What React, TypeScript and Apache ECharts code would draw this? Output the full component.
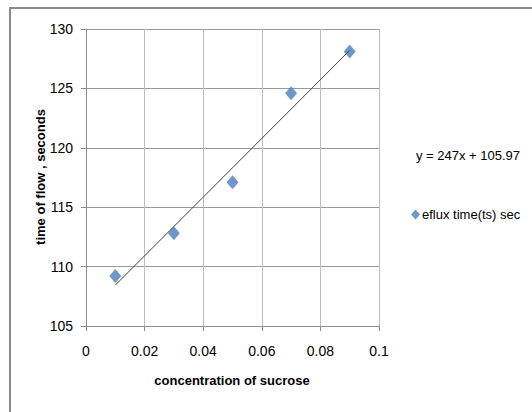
import React, { useEffect, useRef } from "react";
import * as echarts from "echarts";

const concentration = [0.01, 0.03, 0.05, 0.07, 0.09];
const effluxTime = [109.2, 112.8, 117.1, 124.6, 128.1];
const slope = 247;
const intercept = 105.97;
const trendX = [0.01, 0.09];
const seriesName = "eflux time(ts) sec";
const equationText = "y = 247x + 105.97";
const xTitle = "concentration of sucrose";
const yTitle = "time of flow , seconds";

const FONT = "'Liberation Sans', Arial, sans-serif";

export default function App() {
  const ref = useRef<HTMLDivElement>(null);
  useEffect(() => {
    document.body.style.margin = "0";
    const chart = echarts.init(ref.current!, null, { renderer: "svg" });
    const trend = trendX.map((x) => [x, slope * x + intercept]);
    chart.setOption({
      animation: false,
      backgroundColor: "#ffffff",
      textStyle: { fontFamily: FONT },
      grid: { left: 86, right: 153, top: 29, bottom: 86, containLabel: false },
      legend: {
        show: true,
        data: [{ name: seriesName, icon: "diamond" }],
        left: 406,
        top: 203,
        itemWidth: 9,
        itemHeight: 10,
        itemGap: 4,
        textStyle: { fontFamily: FONT, fontSize: 13, color: "#000", padding: [0, 0, 0, -3] },
      },
      xAxis: {
        type: "value",
        min: 0,
        max: 0.1,
        interval: 0.02,
        axisLine: { show: true, lineStyle: { color: "#8c8c8c", width: 1 } },
        axisTick: { show: true, length: 5, lineStyle: { color: "#8c8c8c" } },
        axisLabel: {
          margin: 18,
          fontSize: 14,
          color: "#000",
          fontFamily: FONT,
          formatter: (v: number) => String(+v.toFixed(2)),
        },
        splitLine: { show: true, lineStyle: { color: "#bdbdbd", width: 1 } },
      },
      yAxis: {
        type: "value",
        min: 105,
        max: 130,
        interval: 5,
        axisLine: { show: true, lineStyle: { color: "#8c8c8c", width: 1 } },
        axisTick: { show: true, length: 5, lineStyle: { color: "#8c8c8c" } },
        axisLabel: { margin: 13, fontSize: 14, color: "#000", fontFamily: FONT },
        splitLine: { show: true, lineStyle: { color: "#9a9a9a", width: 1 } },
      },
      graphic: [
        {
          type: "rect",
          shape: { x: 10, y: 8, width: 600, height: 500 },
          style: { fill: "none", stroke: "#8a8a8a", lineWidth: 2 },
          silent: true,
          z: -10,
        },
        {
          type: "text",
          x: 232,
          y: 380,
          style: {
            text: xTitle,
            font: `bold 13px ${FONT}`,
            fill: "#000",
            textAlign: "center",
            textVerticalAlign: "middle",
          },
        },
        {
          type: "text",
          x: 40,
          y: 177,
          rotation: Math.PI / 2,
          style: {
            text: yTitle,
            font: `bold 13px ${FONT}`,
            fill: "#000",
            textAlign: "center",
            textVerticalAlign: "middle",
          },
        },
        {
          type: "text",
          x: 468,
          y: 155,
          style: {
            text: equationText,
            font: `13px ${FONT}`,
            fill: "#000",
            textAlign: "center",
            textVerticalAlign: "middle",
          },
        },
      ],
      series: [
        {
          name: "trend",
          type: "line",
          data: trend,
          symbol: "none",
          lineStyle: { color: "#404040", width: 1 },
          z: 3,
        },
        {
          name: seriesName,
          type: "scatter",
          data: concentration.map((x, i) => [x, effluxTime[i]]),
          symbol: "diamond",
          symbolSize: [12, 14],
          itemStyle: { color: "#4a7ebb" },
          z: 2,
        },
      ],
    });
    return () => chart.dispose();
  }, []);
  return (
    <div
      ref={ref}
      style={{ position: "absolute", left: 0, top: 0, width: 532, height: 412 }}
    />
  );
}
